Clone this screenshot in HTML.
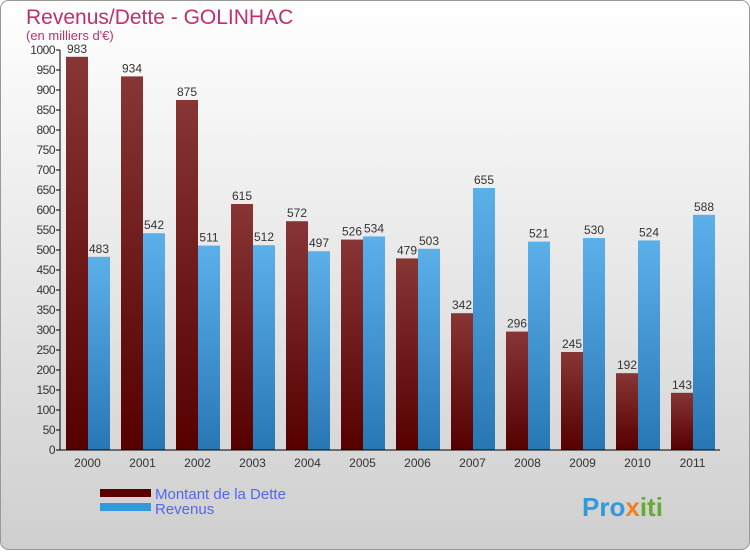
<!DOCTYPE html>
<html><head><meta charset="utf-8"><style>
body{margin:0}
#c{width:750px;height:550px;position:relative;font-family:"Liberation Sans",sans-serif}
</style></head><body>
<div id="c">
<svg id="s" width="750" height="550" xmlns="http://www.w3.org/2000/svg">
<defs>
<linearGradient id="bg" x1="0" y1="0" x2="0" y2="1"><stop offset="0" stop-color="#ffffff"/><stop offset="1" stop-color="#cfcfcf"/></linearGradient>
<linearGradient id="gd" x1="0" y1="0" x2="0" y2="1"><stop offset="0" stop-color="#873535"/><stop offset="1" stop-color="#560000"/></linearGradient>
<linearGradient id="gr" x1="0" y1="0" x2="0" y2="1"><stop offset="0" stop-color="#5cb0ea"/><stop offset="1" stop-color="#2877b5"/></linearGradient>
</defs>
<rect x="0.5" y="0.5" width="749" height="549" rx="8" fill="url(#bg)" stroke="#999"/>
<text x="26" y="24" font-size="21" fill="#c0306a">Revenus/Dette - GOLINHAC</text>
<text x="26" y="40" font-size="13" fill="#c0306a">(en milliers d'€)</text>
<g id="plot"></g>
<rect x="100" y="489" width="51" height="8" fill="#5a0000"/>
<rect x="100" y="503" width="51" height="8" fill="#3399dd"/>
<text x="155" y="499" font-size="15" fill="#5566ee">Montant de la Dette</text>
<text x="155" y="514" font-size="15" fill="#5566ee">Revenus</text>
<text x="582" y="516" font-size="26" font-weight="bold" fill="#3399dd">Pro<tspan fill="#f08020">x</tspan><tspan fill="#66aa33">iti</tspan></text>
</svg>
</div>
<script>
const years=["2000","2001","2002","2003","2004","2005","2006","2007","2008","2009","2010","2011"];
const dette=[983,934,875,615,572,526,479,342,296,245,192,143];
const revenus=[483,542,511,512,497,534,503,655,521,530,524,588];
const ticks=[0,50,100,150,200,250,300,350,400,450,500,550,600,650,700,750,800,850,900,950,1000];
const NS="http://www.w3.org/2000/svg";
const g=document.getElementById('plot');
const x0=60,gw=55,y0=450,ymax=1000,ph=400;
const y=v=>y0-v/ymax*ph;
function mk(t,a,txt){const e=document.createElementNS(NS,t);for(const k in a)e.setAttribute(k,a[k]);if(txt!==undefined)e.textContent=txt;g.appendChild(e);return e;}
years.forEach((yr,i)=>{
  const gx=x0+gw*i;
  let r=mk('rect',{x:gx+6,y:y(dette[i]),width:22,height:y0-y(dette[i]),fill:'url(#gd)'});
  
  
  r=mk('rect',{x:gx+28,y:y(revenus[i]),width:22,height:y0-y(revenus[i]),fill:'url(#gr)'});
  
  
  let t=mk('text',{x:gx+17,y:y(dette[i])-4,'font-size':12,fill:'#333','text-anchor':'middle'},dette[i]);
  
  
  t=mk('text',{x:gx+39,y:y(revenus[i])-4,'font-size':12,fill:'#333','text-anchor':'middle'},revenus[i]);
  
  
  t=mk('text',{x:gx+27.5,y:467,'font-size':12,fill:'#333','text-anchor':'middle'},yr);
  
  
});
ticks.forEach(v=>{
  const l=mk('line',{x1:x0-4,x2:x0,y1:y(v),y2:y(v),stroke:'#000'});
  
  
  const t=mk('text',{x:x0-5,y:y(v)+4,'font-size':12,fill:'#333','text-anchor':'end','letter-spacing':'-0.5'},v);
  
  
});
let a=mk('line',{x1:x0,x2:x0,y1:y(ymax),y2:y0,stroke:'#000'});


a=mk('line',{x1:x0,x2:x0+gw*years.length,y1:y0,y2:y0,stroke:'#000'});


</script>
</body></html>
